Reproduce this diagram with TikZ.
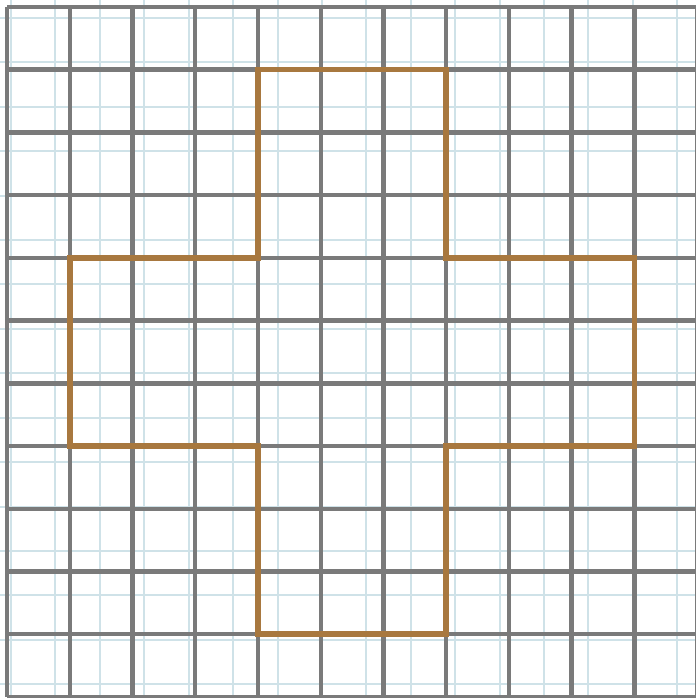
\documentclass[tikz,border=0pt]{standalone}
\usepackage{tikz}
\usepackage{xcolor}
\definecolor{xgrid}{HTML}{7A7A7A}
\definecolor{xpaper}{HTML}{CFE2E8}
\definecolor{xbrown}{HTML}{A8783F}
\tikzset{
	majorgrid/.style={draw=xgrid, line width=2pt},
	minorgrid/.style={draw=xpaper, line width=0.9pt},
	outline/.style={draw=xbrown, line width=2.6pt, line join=miter},
}

\begin{document}
\begin{tikzpicture}
		% Paper and frame
		\useasboundingbox (-0.112,-0.016) rectangle (10.98,11.11);
		\clip (-0.112,-0.016) rectangle (10.98,11.11);
		\fill[white] (-0.112,-0.016) rectangle (10.98,11.11);

		% Faint lines of the paper
		\foreach \k in {0,...,15} {
			\draw[minorgrid] ({0.064+0.708*\k},-0.1) -- ({0.064+0.708*\k},11.2);
			\draw[minorgrid] (-0.2,{10.824-0.708*\k}) -- (11.1,{10.824-0.708*\k});
		}

		% Unit squares
		\foreach \i in {0,...,11} {
			\draw[majorgrid] (\i,0) -- (\i,11);
			\draw[majorgrid] (0,\i) -- (11,\i);
		}

		% Cross
		\draw[outline] (4,10) -- (7,10) -- (7,7) -- (10,7) -- (10,4) -- (7,4)
			-- (7,1) -- (4,1) -- (4,4) -- (1,4) -- (1,7) -- (4,7) -- cycle;
	\end{tikzpicture}
\end{document}
